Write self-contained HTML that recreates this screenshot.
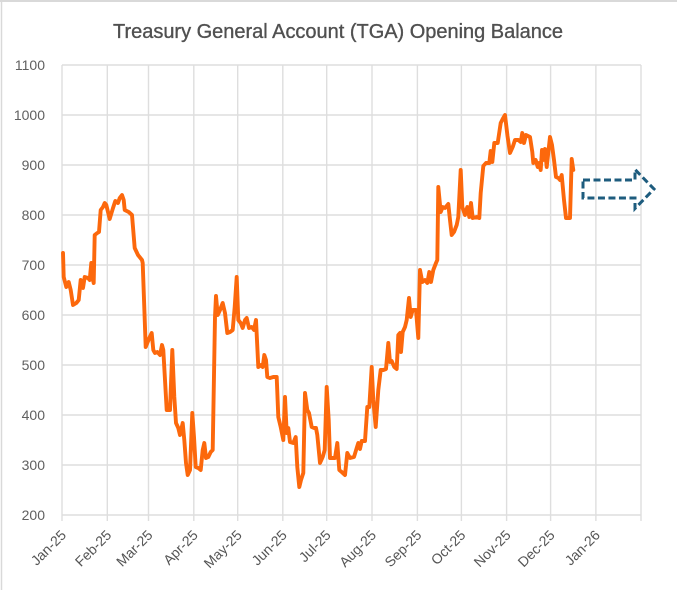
<!DOCTYPE html>
<html>
<head>
<meta charset="utf-8">
<style>
html,body{margin:0;padding:0;background:#fff;}
svg{display:block;}
text{font-family:"Liberation Sans",sans-serif;}
</style>
</head>
<body>
<svg width="677" height="590" viewBox="0 0 677 590" xmlns="http://www.w3.org/2000/svg">
<rect x="0" y="0" width="677" height="590" fill="#fff"/>
<line x1="1.5" y1="0" x2="1.5" y2="590" stroke="#d9d9d9" stroke-width="1.5"/>
<line x1="0" y1="1" x2="677" y2="1" stroke="#d9d9d9" stroke-width="2"/>

<text x="338" y="38" text-anchor="middle" font-size="20" fill="#505050" stroke="#505050" stroke-width="0.35" textLength="450" lengthAdjust="spacingAndGlyphs">Treasury General Account (TGA) Opening Balance</text>

<g stroke="#dedede" stroke-width="1.4" fill="none">
<line x1="62" y1="65" x2="641" y2="65"/>
<line x1="62" y1="115" x2="641" y2="115"/>
<line x1="62" y1="165" x2="641" y2="165"/>
<line x1="62" y1="215" x2="641" y2="215"/>
<line x1="62" y1="265" x2="641" y2="265"/>
<line x1="62" y1="315" x2="641" y2="315"/>
<line x1="62" y1="365" x2="641" y2="365"/>
<line x1="62" y1="415" x2="641" y2="415"/>
<line x1="62" y1="465" x2="641" y2="465"/>
<line x1="62" y1="515" x2="641" y2="515"/>
<line x1="62" y1="65" x2="62" y2="521"/>
<line x1="107.3" y1="65" x2="107.3" y2="521"/>
<line x1="148.5" y1="65" x2="148.5" y2="521"/>
<line x1="193.8" y1="65" x2="193.8" y2="521"/>
<line x1="237.7" y1="65" x2="237.7" y2="521"/>
<line x1="282.8" y1="65" x2="282.8" y2="521"/>
<line x1="326.7" y1="65" x2="326.7" y2="521"/>
<line x1="372" y1="65" x2="372" y2="521"/>
<line x1="417.4" y1="65" x2="417.4" y2="521"/>
<line x1="461.4" y1="65" x2="461.4" y2="521"/>
<line x1="506.6" y1="65" x2="506.6" y2="521"/>
<line x1="550.6" y1="65" x2="550.6" y2="521"/>
<line x1="595.9" y1="65" x2="595.9" y2="521"/>
<line x1="641" y1="65" x2="641" y2="521"/>
</g>

<g font-size="14" fill="#606060" text-anchor="end">
<text x="45" y="70">1100</text>
<text x="45" y="120">1000</text>
<text x="45" y="170">900</text>
<text x="45" y="220">800</text>
<text x="45" y="270">700</text>
<text x="45" y="320">600</text>
<text x="45" y="370">500</text>
<text x="45" y="420">400</text>
<text x="45" y="470">300</text>
<text x="45" y="520">200</text>
</g>

<g font-size="14" fill="#555555" text-anchor="end">
<text transform="translate(67,536) rotate(-45)">Jan-25</text>
<text transform="translate(112.3,536) rotate(-45)">Feb-25</text>
<text transform="translate(153.5,536) rotate(-45)">Mar-25</text>
<text transform="translate(198.8,536) rotate(-45)">Apr-25</text>
<text transform="translate(242.7,536) rotate(-45)">May-25</text>
<text transform="translate(287.8,536) rotate(-45)">Jun-25</text>
<text transform="translate(331.7,536) rotate(-45)">Jul-25</text>
<text transform="translate(377,536) rotate(-45)">Aug-25</text>
<text transform="translate(422.4,536) rotate(-45)">Sep-25</text>
<text transform="translate(466.4,536) rotate(-45)">Oct-25</text>
<text transform="translate(511.6,536) rotate(-45)">Nov-25</text>
<text transform="translate(555.6,536) rotate(-45)">Dec-25</text>
<text transform="translate(600.9,536) rotate(-45)">Jan-26</text>
</g>

<polyline fill="none" stroke="#fc680c" stroke-width="3.9" stroke-linejoin="round" stroke-linecap="round" points="
63,253 63.7,277 66.3,287 68.7,282 70.7,290 73,305 76.3,303 78.7,300 80.7,280 83,288 84.7,277 88,278 89.7,280 91.3,263 92.3,277 93.7,283 94.7,235 97.3,233 99,232 100.7,210 103,207 104.7,203 106.3,205 109.7,219 113,208 115.3,201 118,203 119.7,198 122,195 123.7,200 124.7,210 128.7,212 132,215 134.7,248 138,255 142,260 142.7,263 145.7,347 147.3,343 149.3,338 151.7,333 153.3,350 155,353 157.3,352 160,355 162,345 163.3,350 166.7,410 170,410 172.3,350 174.3,397 176,423 178.3,428 180,435 182.7,423 184.3,440 186,463 187.7,475 190,470 192.3,413 194,437 195.7,467 198.3,468 200.7,470 202.7,450 204.3,443 206,458 208.3,457 210.7,452 212.7,450 215,317 216,296 217.7,315 220,310 222.7,303 225,313 227.3,333 230,332 232.7,330 234.7,307 236.7,277 238.3,320 240.7,323 242.7,328 245,320 246.7,318 249,328 251.7,327 254,330 256,320 258.3,367 261,365 262.7,367 264.3,355 266,360 267.3,377 270,378 273.3,377 276.7,377 278.3,417 280.7,427 283.3,440 285,397 286.7,433 288.3,428 290,442 293.3,443 295.7,437 297.3,467 299.3,487 301,480 303.3,473 305,393 307.3,410 309,413 311.7,427 314,428 316,428 317.3,435 320,463 322.7,457 324.7,450 326.7,387 328.7,420 330,458 331.7,458 335,458 337.3,443 339.3,470 341.7,472 345,475 347.3,453 350,458 354,457 356.7,448 358.3,443 360,449 361.7,441 365,441 367.3,407 369.3,407 371.7,367 373.3,400 375.7,427 378.3,390 380.7,370 383.3,370 386,369 388.3,343 390,362 391.7,361 394.3,367 396.7,369 398.3,335 400,333 401,352 402.7,332 405,327 406.7,320 409,298 410.7,317 412.7,310 416,310 418.3,338 420,270 422.3,282 425,280 427.3,283 429.3,272 431,282 433.3,270 436,263 437.3,260 438.3,187 440.7,212 442.7,207 445,208 448.3,204 450,220 451.7,235 454,232 456.7,225 458.3,217 460.7,170 462.3,207 465,215 467.3,207 469.3,217 471,203 472.7,218 476.7,217 479.3,218 480.7,193 483.3,166 486,163 489.3,163 490.7,151 492.3,162 494.3,143 497.7,143 500.7,123 502.7,119 505,115 507.5,136 510,153 512.7,147 515,140 518.3,140 520.7,142 522.3,133 524,143 526,135 530,137 532.3,152 533.3,163 535.7,160 537.7,167 539,163 540.7,170 542,150 543.3,160 545,149 546.7,167 550,137 552,145 554,160 556,177 558.3,178 560,180 561.7,175 564,200 566,218 570,218 571.7,159 573.3,170"/>

<path d="M583,180 L635,180 L635,169.5 L654,189 L635,208.5 L635,198 L583,198 Z" fill="none" stroke="#1e5c7e" stroke-width="3" stroke-dasharray="7 3.5" stroke-linejoin="miter"/>
</svg>
</body>
</html>
